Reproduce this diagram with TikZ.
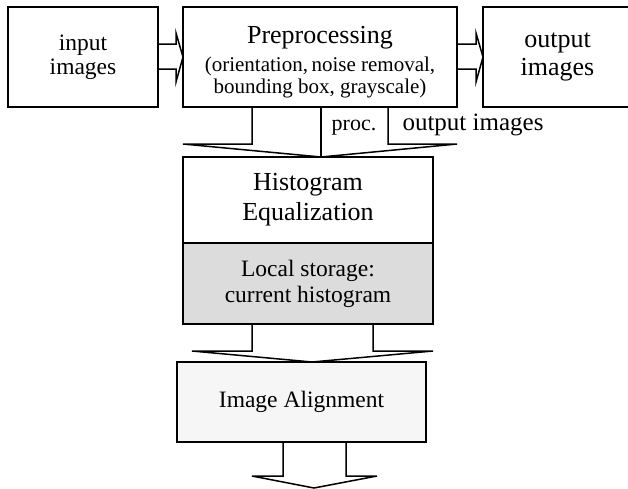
\documentclass[tikz,border=0pt]{standalone}
\usepackage{fontspec}
\setmainfont{Liberation Serif}
\usetikzlibrary{calc}
\definecolor{storegray}{HTML}{DCDCDC}
\definecolor{aligngray}{HTML}{F6F6F6}
\begin{document}
\begin{tikzpicture}[x=1pt,y=-1pt,
  box/.style={draw=black,line width=1.5pt,rectangle,inner sep=0pt,outer sep=0pt,align=center},
  fat/.style={draw=black,line width=1.5pt,line join=miter},
  big/.style={font=\fontsize{26}{30}\selectfont},
  mid/.style={font=\fontsize{23.5}{26}\selectfont},
  small/.style={font=\fontsize{21}{23}\selectfont}]
\useasboundingbox (0,0) rectangle (628,488);
\begin{scope}
\clip (0,0) rectangle (628,488);
% boxes
\node[box,mid,minimum width=150pt,minimum height=100pt] (in) at (83,57) {input\\[-2pt]images};
\node[box,minimum width=274pt,minimum height=100pt] (pre) at (320,57) {};
\node[big,anchor=base,inner sep=0pt] (pt1) at (320,43) {Preprocessing};
\node[small,anchor=base,inner sep=0pt] (pt2) at (320,71) {(orientation,\,noise removal,};
\node[small,anchor=base,inner sep=0pt] (pt3) at (320,93) {bounding box, grayscale)};
\node[box,big,minimum width=149pt,minimum height=100pt] (out) at (557.5,57) {output\\[-2pt]images};
\node[box,big,minimum width=250pt,minimum height=86pt] (hist) at (308,200) {Histogram\\Equalization};
\node[box,mid,fill=storegray,minimum width=250pt,minimum height=81pt] (store) at (308,283.5) {Local storage:\\current histogram};
\node[box,mid,fill=aligngray,minimum width=249pt,minimum height=80pt] (align) at (301.5,402) {Image Alignment};
% labels
\node[font=\fontsize{22}{24}\selectfont,inner sep=0pt] (proc) at (354,128) {proc.};
\node[font=\fontsize{25}{28}\selectfont,inner sep=0pt] (outlbl) at (473,125) {output images};
% fat arrows
\draw[fat] (in.east |- 0,44) -- (176,44) -- (176,33) -- (pre.west |- 0,57) -- (176,82) -- (176,69) -- (in.east |- 0,69);
\draw[fat] (pre.east |- 0,44) -- (476,44) -- (476,33) -- (out.west |- 0,57) -- (476,82) -- (476,69) -- (pre.east |- 0,69);
\draw[fat] (pre.south -| 252,0) -- (252,144) -- (183,144) -- (hist.north -| 321,0) -- (457,144) -- (388,144) -- (pre.south -| 388,0);
\draw[line width=1.2pt] (pre.south -| 321,0) -- (hist.north -| 321,0);
\draw[fat] (store.south -| 252,0) -- (252,351) -- (192,351) -- (align.north -| 312,0) -- (433,351) -- (373,351) -- (store.south -| 373,0);
\coordinate (bottomtip) at (314,488);
\draw[fat] (align.south -| 283,0) -- (283,476) -- (252,476) -- (bottomtip) -- (377,476) -- (346,476) -- (align.south -| 346,0);
\end{scope}
\end{tikzpicture}
\end{document}
